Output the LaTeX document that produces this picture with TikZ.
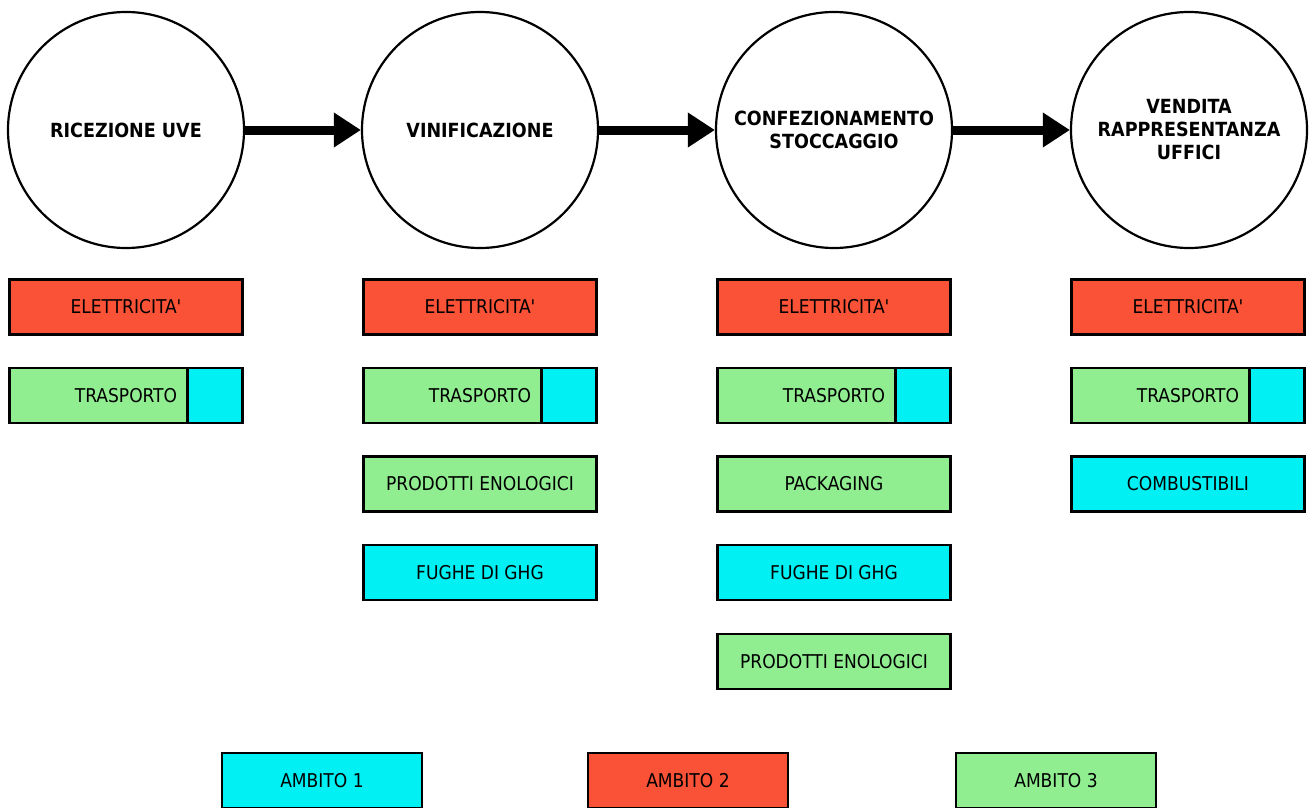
\documentclass[tikz,border=0pt]{standalone}
\usepackage{fontspec}
\setmainfont{DejaVu Sans}
\newfontfamily\boxfont{DejaVu Sans Condensed}
\usepackage{tikz}
\usetikzlibrary{shapes,arrows,arrows.meta,positioning}

\definecolor{ambitoUno}{RGB}{0,240,244}
\definecolor{ambitoDue}{RGB}{250,82,54}
\definecolor{ambitoTre}{RGB}{144,238,144}

\begin{document}
\begin{tikzpicture}[x=1pt, y=-1pt]
			\tikzstyle{Phase}	= [circle, draw, line width=2.2pt, fill=white, minimum size=236pt, inner sep=0pt, align=center, font=\boxfont\fontsize{19.5}{23}\selectfont\bfseries]
			\tikzstyle{Source}	= [draw, line width=2.6pt, minimum width=233pt, minimum height=55pt, inner sep=0pt, font=\boxfont\fontsize{19}{22}\selectfont]
			\tikzstyle{Legend}	= [Source, minimum width=200pt]
			\tikzstyle{Corner}	= [draw, line width=2.6pt, fill=ambitoUno, minimum width=55pt, minimum height=55pt, inner sep=0pt]
			\tikzstyle{S1}		= [fill=ambitoUno]
			\tikzstyle{S2}		= [fill=ambitoDue]
			\tikzstyle{S3}		= [fill=ambitoTre]
			\tikzstyle{Flow}	= [line width=9pt, -{Triangle[length=27pt, width=33pt]}]

			\useasboundingbox (0,0) rectangle (1314,808);

			% fasi
			\node (p1) at (126, 130) [Phase] {RICEZIONE UVE};
			\node (p2) at (480, 130) [Phase] {VINIFICAZIONE};
			\node (p3) at (834, 130) [Phase] {CONFEZIONAMENTO\\STOCCAGGIO};
			\node (p4) at (1189, 130) [Phase] {VENDITA\\RAPPRESENTANZA\\UFFICI};

			\draw (p1) to (p2) [Flow];
			\draw (p2) to (p3) [Flow];
			\draw (p3) to (p4) [Flow];

			% ricezione uve
			\node (e1) at (126, 307) [Source, S2] {ELETTRICITA'};
			\node (t1) at (126, 395.5) [Source, S3] {TRASPORTO};
			\node (q1) at (t1.east) [Corner, anchor=east] {};

			% vinificazione
			\node (e2) at (480, 307) [Source, S2] {ELETTRICITA'};
			\node (t2) at (480, 395.5) [Source, S3] {TRASPORTO};
			\node (q2) at (t2.east) [Corner, anchor=east] {};
			\node (n2) at (480, 484) [Source, S3] {PRODOTTI ENOLOGICI};
			\node (g2) at (480, 572.5) [Source, S1] {FUGHE DI GHG};

			% confezionamento
			\node (e3) at (834, 307) [Source, S2] {ELETTRICITA'};
			\node (t3) at (834, 395.5) [Source, S3] {TRASPORTO};
			\node (q3) at (t3.east) [Corner, anchor=east] {};
			\node (k3) at (834, 484) [Source, S3] {PACKAGING};
			\node (g3) at (834, 572.5) [Source, S1] {FUGHE DI GHG};
			\node (n3) at (834, 661.5) [Source, S3] {PRODOTTI ENOLOGICI};

			% vendita
			\node (e4) at (1188, 307) [Source, S2] {ELETTRICITA'};
			\node (t4) at (1188, 395.5) [Source, S3] {TRASPORTO};
			\node (q4) at (t4.east) [Corner, anchor=east] {};
			\node (c4) at (1188, 484) [Source, S1] {COMBUSTIBILI};

			% legenda
			\node (a1) at (322, 780.5) [Legend, S1] {AMBITO 1};
			\node (a2) at (688, 780.5) [Legend, S2] {AMBITO 2};
			\node (a3) at (1056, 780.5) [Legend, S3] {AMBITO 3};
		\end{tikzpicture}
\end{document}
